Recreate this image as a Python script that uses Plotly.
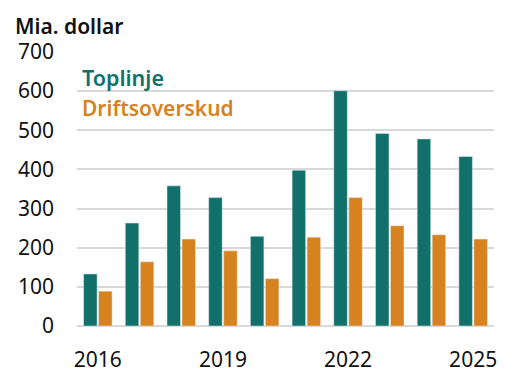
import plotly.graph_objects as go

years = ["2016", "2017", "2018", "2019", "2020", "2021", "2022", "2023", "2024", "2025"]
toplinje = [133, 263, 358, 328, 229, 398, 601, 492, 478, 433]
driftsoverskud = [89, 164, 222, 192, 121, 227, 328, 256, 233, 222]
y_ticks = [0, 100, 200, 300, 400, 500, 600, 700]
x_ticks = ["2016", "2019", "2022", "2025"]

TEAL = "#11706A"
ORANGE = "#D6821F"
FONT = "Noto Sans"

# the page body has an 8px default margin, so the figure is sized to fill the rest
fig = go.Figure()
fig.add_trace(go.Bar(x=years, y=toplinje, name="Toplinje", marker_color=TEAL))
fig.add_trace(go.Bar(x=years, y=driftsoverskud, name="Driftsoverskud", marker_color=ORANGE))

fig.update_layout(
    width=512, height=381,
    margin=dict(l=69, r=26, t=44, b=63),
    paper_bgcolor="white", plot_bgcolor="white",
    barmode="group", bargap=0.28, bargroupgap=0.1,
    showlegend=False,
    font=dict(family=FONT, size=21, color="#111111"),
    xaxis=dict(
        type="category", range=[-0.5, 9.5], automargin=False,
        tickmode="array", tickvals=x_ticks, ticktext=x_ticks,
        showgrid=False, showline=False, zeroline=False,
        ticks="", ticklabelstandoff=19,
        tickfont=dict(family=FONT, size=21, color="#111111"),
    ),
    yaxis=dict(
        range=[0, 700], tickmode="array", tickvals=y_ticks, automargin=False,
        showgrid=True, gridcolor="#D9D9D9", gridwidth=1.5,
        zeroline=True, zerolinecolor="#D9D9D9", zerolinewidth=1.5,
        showline=False, ticks="", ticklabelstandoff=22,
        tickfont=dict(family=FONT, size=21, color="#111111"),
    ),
    annotations=[
        dict(text="Mia. dollar", xref="paper", yref="paper",
             x=(13 - 77) / 417, y=(326 - 26) / 274, xanchor="left", yanchor="middle",
             showarrow=False, font=dict(family=FONT, size=21, color="#111111", weight=600)),
        dict(text="Toplinje", xref="paper", yref="paper",
             x=(80 - 77) / 417, y=(326 - 77) / 274, xanchor="left", yanchor="middle",
             showarrow=False, font=dict(family=FONT, size=21.5, color=TEAL, weight=600)),
        dict(text="Driftsoverskud", xref="paper", yref="paper",
             x=(80 - 77) / 417, y=(326 - 108) / 274, xanchor="left", yanchor="middle",
             showarrow=False, font=dict(family=FONT, size=21, color=ORANGE, weight=600)),
    ],
)

fig.write_html("out.html")
